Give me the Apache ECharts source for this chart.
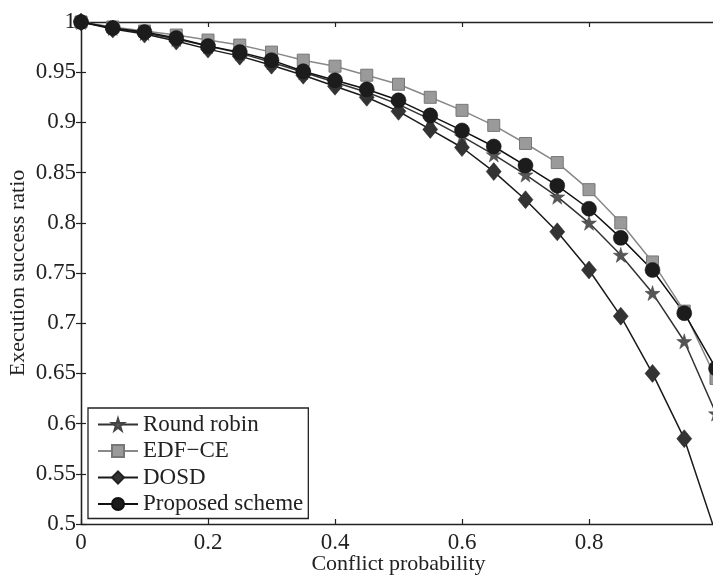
<!DOCTYPE html>
<html>
<head>
<meta charset="utf-8">
<script src="https://cdn.jsdelivr.net/npm/echarts@6/dist/echarts.min.js"></script>
<style>
  html, body { margin: 0; padding: 0; background: #fff; }
  #chart { width: 713px; height: 575px; }
</style>
</head>
<body>
<div id="chart"></div>
<script>
// conflict probability
const xValues = [0, 0.05, 0.1, 0.15, 0.2, 0.25, 0.3, 0.35, 0.4, 0.45, 0.5,
  0.55, 0.6, 0.65, 0.7, 0.75, 0.8, 0.85, 0.9, 0.95, 1];

// execution success ratio per scheme
const roundRobin = [1.0, 0.994, 0.989, 0.983, 0.976, 0.969, 0.960, 0.950, 0.940, 0.930, 0.918,
  0.903, 0.886, 0.868, 0.848, 0.826, 0.800, 0.768, 0.730, 0.682, 0.61];
const edfCe = [1.0, 0.995, 0.991, 0.987, 0.982, 0.977, 0.970, 0.962, 0.956, 0.947, 0.938,
  0.925, 0.912, 0.897, 0.879, 0.860, 0.833, 0.800, 0.761, 0.712, 0.645];
const dosd = [1.0, 0.993, 0.988, 0.981, 0.973, 0.966, 0.957, 0.947, 0.936, 0.925, 0.911,
  0.893, 0.875, 0.851, 0.823, 0.791, 0.753, 0.707, 0.650, 0.585, 0.49];
const proposed = [1.0, 0.994, 0.990, 0.984, 0.976, 0.970, 0.962, 0.951, 0.942, 0.933, 0.922,
  0.907, 0.892, 0.876, 0.857, 0.837, 0.814, 0.785, 0.753, 0.710, 0.655];

const seriesNames = ['Round robin', 'EDF\u2212CE', 'DOSD', 'Proposed scheme'];

const font = 'Liberation Serif';
const starPath = 'path://M50,0 L61,35 L98,35 L68,57 L79,91 L50,70 L21,91 L32,57 L2,35 L39,35 Z';

function pairs(ys) {
  return xValues.map((x, i) => [x, ys[i]]);
}

const chart = echarts.init(document.getElementById('chart'));

const axisLine = { show: true, lineStyle: { color: '#222', width: 1.3 } };
const tickIn = { show: true, inside: true, length: 5, lineStyle: { color: '#222', width: 1.2 } };

chart.setOption({
  backgroundColor: '#fff',
  animation: false,
  grid: { left: 81, top: 22, width: 635, height: 502, outerBoundsMode: 'none' },
  legend: {
    orient: 'vertical',
    left: 88,
    top: 408,
    data: seriesNames,
    itemWidth: 40,
    itemHeight: 15,
    itemGap: 3.5,
    padding: [5, 5, 3, 9],
    borderColor: '#222',
    borderWidth: 1.3,
    backgroundColor: '#fff',
    textStyle: { fontFamily: font, fontSize: 23, color: '#222' },
  },
  xAxis: [
    {
      type: 'value',
      min: 0,
      max: 1,
      interval: 0.2,
      name: 'Conflict probability',
      nameLocation: 'middle',
      nameGap: 29,
      nameMoveOverlap: false,
      nameTextStyle: { fontFamily: font, fontSize: 22, color: '#222' },
      axisLine: axisLine,
      axisTick: tickIn,
      axisLabel: { fontFamily: font, fontSize: 23, color: '#222', margin: 7, showMaxLabel: false },
      splitLine: { show: false },
    },
    {
      type: 'value',
      position: 'top',
      min: 0,
      max: 1,
      interval: 0.2,
      axisLine: axisLine,
      axisTick: tickIn,
      axisLabel: { show: false },
      splitLine: { show: false },
    },
  ],
  yAxis: [
    {
      type: 'value',
      min: 0.5,
      max: 1,
      interval: 0.05,
      name: 'Execution success ratio',
      nameLocation: 'middle',
      nameGap: 52,
      nameMoveOverlap: false,
      nameTextStyle: { fontFamily: font, fontSize: 22, color: '#222' },
      axisLine: axisLine,
      axisTick: tickIn,
      axisLabel: { fontFamily: font, fontSize: 23, color: '#222', margin: 5 },
      splitLine: { show: false },
    },
    {
      type: 'value',
      position: 'right',
      min: 0.5,
      max: 1,
      interval: 0.05,
      axisLine: axisLine,
      axisTick: tickIn,
      axisLabel: { show: false },
      splitLine: { show: false },
    },
  ],
  series: [
    {
      name: seriesNames[0],
      type: 'line',
      data: pairs(roundRobin),
      symbol: starPath,
      symbolSize: 15,
      lineStyle: { color: '#333', width: 1.5 },
      itemStyle: { color: '#555', borderColor: '#444', borderWidth: 0.5 },
    },
    {
      name: seriesNames[1],
      type: 'line',
      data: pairs(edfCe),
      symbol: 'rect',
      symbolSize: 12,
      lineStyle: { color: '#888', width: 1.5 },
      itemStyle: { color: '#9a9a9a', borderColor: '#777', borderWidth: 1 },
    },
    {
      name: seriesNames[2],
      type: 'line',
      data: pairs(dosd),
      symbol: 'diamond',
      symbolSize: [15, 18],
      lineStyle: { color: '#1a1a1a', width: 1.5 },
      itemStyle: { color: '#333', borderColor: '#222', borderWidth: 0.5 },
    },
    {
      name: seriesNames[3],
      type: 'line',
      data: pairs(proposed),
      symbol: 'circle',
      symbolSize: 15,
      lineStyle: { color: '#111', width: 1.5 },
      itemStyle: { color: '#1c1c1c', borderColor: '#111', borderWidth: 0.5 },
    },
  ],
});
</script>
</body>
</html>
